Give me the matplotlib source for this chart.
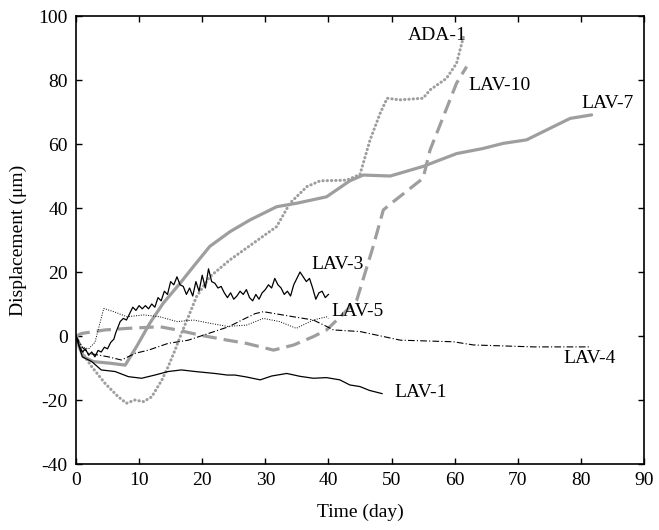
import matplotlib
matplotlib.use("Agg")
import matplotlib.pyplot as plt

plt.rcParams['font.family'] = ['Liberation Serif', 'DejaVu Serif']
plt.rcParams['axes.unicode_minus'] = False

# ---- data ----
lav7_x = [0, 0.5, 1.2, 2.75, 5.4, 7.8, 9.6, 11.7, 13.8, 16.5, 18.6, 21.2, 24.4, 27.6, 31.8, 35.0, 39.7, 43.4, 45.5, 49.8, 55.0, 60.3, 64.5, 67.7, 71.4, 75.1, 78.3, 81.7]
lav7_y = [0, -3.5, -6.5, -8.0, -8.5, -9.1, -3.3, 4.0, 10.2, 16.5, 21.7, 28.0, 32.6, 36.3, 40.4, 41.5, 43.5, 48.5, 50.3, 50.0, 53.0, 57.0, 58.6, 60.2, 61.3, 64.9, 68.0, 69.1]

ada1_x = [0, 1.4, 2.5, 4.6, 6.7, 8.0, 9.35, 10.7, 12.0, 13.6, 14.6, 15.7, 16.7, 17.8, 19.1, 21.2, 24.4, 28.1, 31.8, 33.9, 36.6, 38.7, 42.9, 45.0, 46.6, 48.2, 49.3, 51.3, 55.0, 56.1, 58.7, 60.3, 61.4]
ada1_y = [0, -6.5, -9.6, -14.8, -19.0, -21.0, -20.0, -20.5, -19.0, -13.8, -9.6, -4.4, 0.8, 6.0, 12.3, 18.5, 23.8, 29.0, 34.2, 41.5, 46.7, 48.5, 48.7, 50.5, 61.3, 69.6, 74.3, 73.8, 74.3, 76.9, 80.5, 85.2, 93.5]

lav10_x = [0, 0.9, 4.6, 8.3, 13.3, 16.0, 19.6, 24.0, 27.0, 31.3, 34.5, 37.6, 39.7, 42.4, 44.5, 47.0, 48.7, 50.3, 55.0, 56.1, 58.2, 60.3, 61.9]
lav10_y = [0, 0.8, 1.9, 2.4, 2.9, 1.9, 0.3, -1.3, -2.3, -4.4, -2.8, -0.2, 1.9, 7.0, 11.3, 27.4, 39.4, 42.0, 49.3, 58.1, 68.5, 79.0, 84.2]

lav3_x = [0, 0.5, 1, 1.5, 2, 2.5, 3, 3.5, 4, 4.5, 5, 5.5, 6, 6.3, 7, 7.5, 8, 8.5, 9, 9.5, 10, 10.5, 11, 11.5, 12, 12.5, 13, 13.5, 14, 14.5, 15, 15.5, 16, 16.5, 17, 17.5, 18, 18.5, 19, 19.5, 20, 20.5, 21, 21.5, 22, 22.5, 23, 23.5, 24, 24.5, 25, 25.5, 26, 26.5, 27, 27.5, 28, 28.5, 29, 29.5, 30, 30.5, 31, 31.5, 32, 32.5, 33, 33.5, 34, 34.5, 35, 35.5, 36, 36.5, 37, 37.5, 38, 38.5, 39, 39.5, 40]
lav3_y = [0, -3, -5, -4, -6, -5, -6.5, -4.5, -5, -3.5, -4, -2, -1, 1, 4.5, 5.5, 5, 7, 9, 8, 9.5, 8.5, 9.5, 8.5, 10, 9, 12, 11, 14, 13, 17, 16, 18.5, 16, 15.5, 13, 15, 12.5, 17, 14, 19, 15, 21, 17, 16.5, 15, 15.5, 13.5, 12, 13.5, 11.5, 12.5, 14, 13, 14.5, 12, 11, 13, 11.5, 13.5, 14.5, 16, 15, 18, 16, 15, 13, 14, 12.5, 16, 18, 20, 18.5, 17, 18, 15, 11.5, 13.5, 14, 12, 13]

lav1_x = [0, 1.0, 2.5, 4.0, 6.2, 8.3, 10.4, 12.5, 14.6, 16.7, 18.9, 22.0, 24.0, 25.2, 27.0, 29.2, 31.0, 33.4, 35.5, 37.6, 39.7, 41.8, 43.4, 45.0, 46.5, 48.5]
lav1_y = [0, -6.5, -8.0, -10.6, -11.1, -12.7, -13.2, -12.2, -11.1, -10.6, -11.1, -11.7, -12.2, -12.2, -12.8, -13.7, -12.5, -11.7, -12.6, -13.2, -13.0, -13.7, -15.3, -15.8, -17.0, -18.0]

lav5_x = [0, 1.0, 2.0, 3.0, 4.4, 6.0, 8.1, 10.7, 13.3, 16.0, 18.6, 21.2, 24.0, 27.0, 29.7, 32.3, 34.9, 37.6, 39.7, 40.0]
lav5_y = [0, -3.5, -4.0, -2.0, 8.6, 7.6, 6.0, 6.6, 6.0, 4.5, 5.0, 4.0, 3.0, 3.4, 5.5, 4.5, 2.4, 5.0, 6.0, 5.5]

lav4_x = [0, 1.0, 2.0, 5.1, 7.2, 9.4, 11.5, 14.6, 17.8, 21.0, 24.2, 26.3, 28.4, 29.7, 34.5, 37.6, 39.7, 40.8, 45.0, 51.4, 59.8, 63.0, 72.5, 81.5]
lav4_y = [0, -3.5, -5.4, -6.5, -7.5, -5.4, -4.4, -2.3, -1.3, 0.8, 2.9, 5.0, 7.0, 7.6, 6.0, 5.0, 3.0, 1.9, 1.4, -1.3, -1.8, -2.8, -3.4, -3.4]

labels = ["ADA-1", "LAV-10", "LAV-7", "LAV-3", "LAV-5", "LAV-4", "LAV-1"]
label_x = [52.6, 62.1, 80.1, 37.3, 40.5, 77.2, 50.5]
label_y = [94.0, 78.4, 72.7, 22.2, 7.6, -7.0, -17.5]

x_ticks = [0, 10, 20, 30, 40, 50, 60, 70, 80, 90]
y_ticks = [-40, -20, 0, 20, 40, 60, 80, 100]

# ---- figure ----
fig = plt.figure(figsize=(6.59, 5.30), dpi=100)
ax = fig.add_axes([0.1153, 0.1245, 0.8619, 0.8453])

gray = '#9e9e9e'
ax.plot(lav7_x, lav7_y, color=gray, lw=2.3, solid_capstyle='round')
ax.plot(ada1_x, ada1_y, color=gray, lw=2.2, linestyle=(0, (0.1, 1.3)), dash_capstyle='round')
ax.plot(lav10_x, lav10_y, color=gray, lw=2.3, linestyle=(0, (4.5, 2.2)))
ax.plot(lav3_x, lav3_y, color='black', lw=0.9)
ax.plot(lav1_x, lav1_y, color='black', lw=0.9)
ax.plot(lav5_x, lav5_y, color='black', lw=0.7, linestyle=(0, (1, 1.5)))
ax.plot(lav4_x, lav4_y, color='black', lw=0.8, linestyle=(0, (6, 2, 1, 2)))

for t, x, y in zip(labels, label_x, label_y):
    ax.text(x, y, t, fontsize=14, ha='left', va='center')

ax.set_xlim(0, 90)
ax.set_ylim(-40, 100)
ax.set_xticks(x_ticks)
ax.set_yticks(y_ticks)
ax.tick_params(direction='in', top=True, right=True, length=4, width=1, labelsize=14, pad=6)
for s in ax.spines.values():
    s.set_linewidth(1.2)
ax.set_xlabel('Time (day)', fontsize=14, labelpad=10)
ax.set_ylabel('Displacement (μm)', fontsize=14, labelpad=8)

fig.savefig('out.png', dpi=100)
